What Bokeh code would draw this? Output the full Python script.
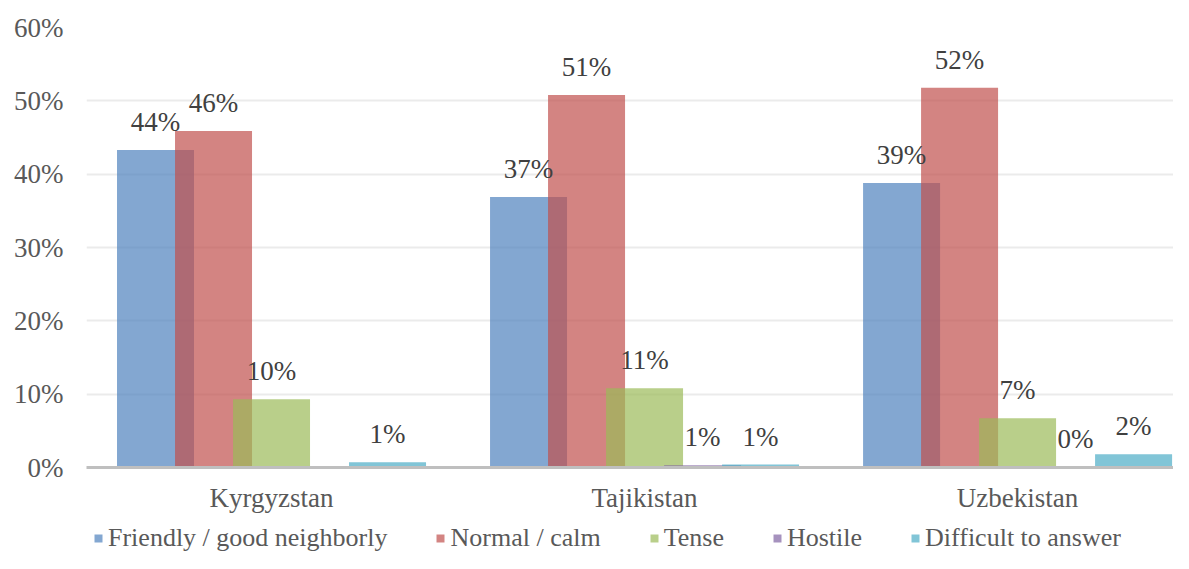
from bokeh.plotting import figure
from bokeh.layouts import column
from bokeh.models import (ColumnDataSource, Range1d, FixedTicker, NumeralTickFormatter,
                          LabelSet, Legend, LegendItem)
from bokeh.embed import file_html
from bokeh.resources import INLINE
import math

countries = ["Kyrgyzstan", "Tajikistan", "Uzbekistan"]
series = ["Friendly / good neighborly", "Normal / calm", "Tense", "Hostile", "Difficult to answer"]
friendly = [43.3, 36.9, 38.8]
normal = [45.9, 50.8, 51.8]
tense = [9.3, 10.8, 6.7]
hostile = [None, 0.3, 0.1]
difficult = [0.7, 0.4, 1.8]
friendly_labels = ["44%", "37%", "39%"]
normal_labels = ["46%", "51%", "52%"]
tense_labels = ["10%", "11%", "7%"]
hostile_labels = ["", "1%", "0%"]
difficult_labels = ["1%", "1%", "2%"]
y_ticks = [0, 10, 20, 30, 40, 50, 60]

colors = ["#4F81BD", "#C0504D", "#9BBB59", "#8064A2", "#4BACC6"]
values = [friendly, normal, tense, hostile, difficult]
labels = [friendly_labels, normal_labels, tense_labels, hostile_labels, difficult_labels]

FONT = "Liberation Serif"
step = 58 / 373
bar_w = 77 / 373

p = figure(width=1173, height=522, output_backend="svg", toolbar_location=None,
           x_range=Range1d(-0.496, 2.418), y_range=Range1d(0, 0.6),
           min_border_left=86, min_border_right=0, min_border_top=27, min_border_bottom=55)
p.outline_line_color = None
p.background_fill_color = "white"
p.border_fill_color = "white"

# legend strip below the chart (its swatch renderers sit outside its visible range)
pl = figure(width=1173, height=31, output_backend="svg", toolbar_location=None,
            x_range=Range1d(0, 1), y_range=Range1d(0, 1),
            x_axis_location=None, y_axis_location=None,
            min_border_left=0, min_border_right=0, min_border_top=0, min_border_bottom=0)
pl.outline_line_color = None
pl.xgrid.grid_line_color = None
pl.ygrid.grid_line_color = None

items = []
for j, (name, vals, labs, col) in enumerate(zip(series, values, labels, colors)):
    xs = [i + (j - 2) * step for i in range(len(countries))]
    tops = [float('nan') if v is None else v / 100 for v in vals]
    src = ColumnDataSource(dict(x=xs, top=tops, lab=labs,
                                ly=[0 if math.isnan(t) else t for t in tops]))
    p.vbar(x='x', top='top', width=bar_w, source=src, fill_color=col,
           fill_alpha=0.7, line_color=None)
    ls = LabelSet(x='x', y='ly', text='lab', source=src, text_align='center',
                  text_baseline='alphabetic', y_offset=19, text_font=FONT,
                  text_font_size="27px", text_color="#404040")
    p.add_layout(ls)
    rl = pl.vbar(x=[-5], top=[-5], width=0.1, fill_color=col, fill_alpha=0.7,
                 line_color=None)
    items.append(LegendItem(label=name, renderers=[rl]))

p.xaxis.ticker = FixedTicker(ticks=list(range(len(countries))))
p.xaxis.major_label_overrides = {i: c for i, c in enumerate(countries)}
p.xaxis.major_tick_line_color = None
p.xaxis.minor_tick_line_color = None
p.xaxis.major_tick_out = 0
p.xaxis.axis_line_color = "#BFBFBF"
p.xaxis.axis_line_width = 3
p.xaxis.major_label_standoff = 15
p.xaxis.major_label_text_font = FONT
p.xaxis.major_label_text_font_size = "27px"
p.xaxis.major_label_text_color = "#595959"

p.yaxis.ticker = FixedTicker(ticks=[t / 100 for t in y_ticks])
p.yaxis.formatter = NumeralTickFormatter(format="0%")
p.yaxis.axis_line_color = None
p.yaxis.major_tick_line_color = None
p.yaxis.minor_tick_line_color = None
p.yaxis.major_label_standoff = 17
p.yaxis.major_label_text_font = FONT
p.yaxis.major_label_text_font_size = "27px"
p.yaxis.major_label_text_color = "#595959"

p.xgrid.grid_line_color = None
p.ygrid.grid_line_color = "#EBEBEB"
p.ygrid.grid_line_width = 2

legend = Legend(items=items, orientation="horizontal", location=(7, 0),
                padding=0, margin=0, spacing=48, label_standoff=5,
                glyph_width=10, glyph_height=10, label_height=20,
                label_text_font=FONT, label_text_font_size="26px",
                label_text_color="#595959", border_line_color=None,
                background_fill_alpha=0)
pl.add_layout(legend, "center")

layout = column(p, pl, spacing=0)
open("out.html", "w").write(file_html(layout, INLINE))
